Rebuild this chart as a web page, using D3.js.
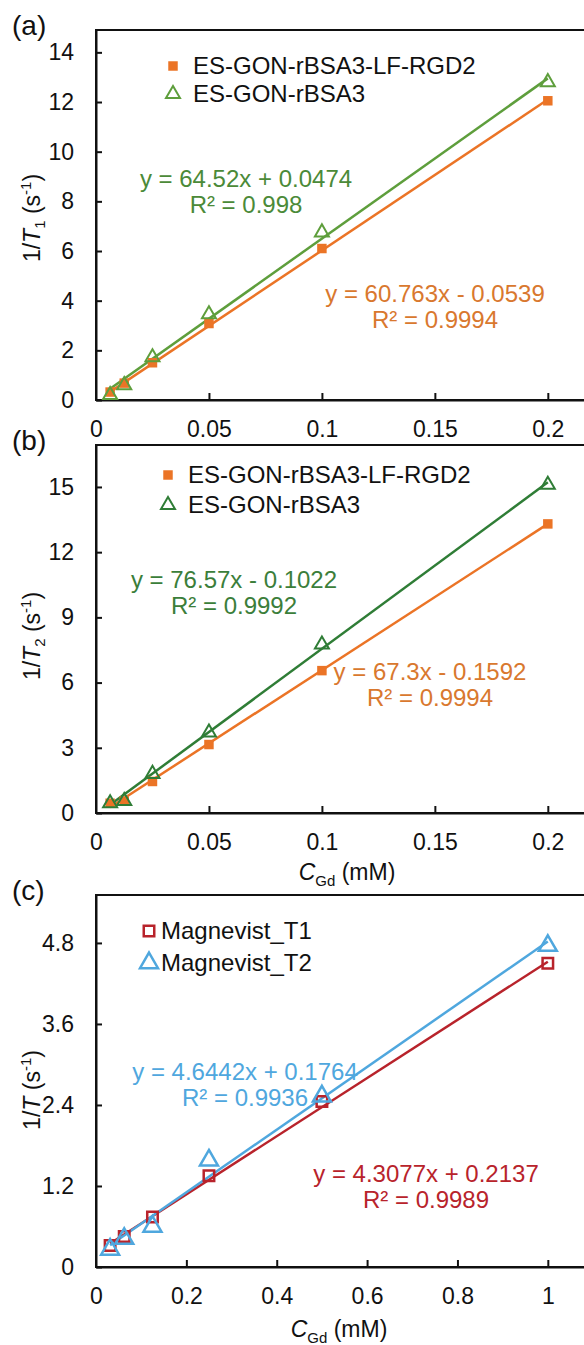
<!DOCTYPE html>
<html>
<head>
<meta charset="utf-8">
<script src="https://cdn.jsdelivr.net/npm/d3@7"></script>
<style>
  body { margin: 0; background: #fff; }
  svg { display: block; font-family: "Liberation Sans", Arial, sans-serif; }
</style>
</head>
<body>
<div id="chart"></div>
<script>
// concentrations (mM)
var concAB = [0.00625, 0.0125, 0.025, 0.05, 0.1, 0.2]
var concC = [0.03125, 0.0625, 0.125, 0.25, 0.5, 1]

// (a) 1/T1
var t1Rgd = [0.32, 0.68, 1.5, 3.08, 6.1, 12.05]
var t1Bsa = [0.2, 0.6, 1.72, 3.45, 6.75, 12.8]
// (b) 1/T2
var t2Rgd = [0.45, 0.55, 1.45, 3.15, 6.55, 13.3]
var t2Bsa = [0.45, 0.55, 1.8, 3.7, 7.75, 15.1]
// (c) Magnevist
var magT1 = [0.32, 0.45, 0.74, 1.35, 2.45, 4.5]
var magT2 = [0.26, 0.42, 0.6, 1.58, 2.53, 4.76]

// linear fits [slope, intercept]
var fitT1Rgd = [60.763, -0.0539], fitT1Bsa = [64.52, 0.0474]
var fitT2Rgd = [67.3, -0.1592], fitT2Bsa = [76.57, -0.1022]
var fitMagT1 = [4.3077, 0.2137], fitMagT2 = [4.6442, 0.1764]

var seriesNames = ["ES-GON-rBSA3-LF-RGD2", "ES-GON-rBSA3"]
var magNames = ["Magnevist_T1", "Magnevist_T2"]

var xTicksAB = [0, 0.05, 0.1, 0.15, 0.2]
var xTicksC = [0, 0.2, 0.4, 0.6, 0.8, 1]
var yTicksA = [0, 2, 4, 6, 8, 10, 12, 14]
var yTicksB = [0, 3, 6, 9, 12, 15]
var yTicksC = [0, 1.2, 2.4, 3.6, 4.8]

var w = 584, h = 1345,
	orange = "#EB7426", orangeText = "#D9782E",
	greenA = "#5E9E3C", greenAText = "#4B8A38",
	greenB = "#2F7D36", greenBText = "#3B7E3A",
	red = "#B8232B", blue = "#4FA7DE"

var svg = d3.select("#chart").append("svg")
	.attr("width", w)
	.attr("height", h)

var tri = d3.symbol().type(d3.symbolTriangle)
var sq = d3.symbol().type(d3.symbolSquare)

var drawPanel = p => {
	var x = d3.scaleLinear().domain(p.xDomain).range([96, 593])
	var y = d3.scaleLinear().domain(p.yDomain).range([p.bottom, p.top])
	var g = svg.append("g")

	// frame (right side falls outside the picture)
	g.append("rect")
		.attr("x", x(p.xDomain[0])).attr("y", p.top)
		.attr("width", x(p.xDomain[1]) - x(p.xDomain[0]))
		.attr("height", p.bottom - p.top)
		.attr("fill", "none").attr("stroke", "#111").attr("stroke-width", 2)

	var xAxis = d3.axisBottom(x).tickValues(p.xTicks).tickFormat(d => String(d))
		.tickSizeInner(-7).tickSizeOuter(0).tickPadding(21)
	var yAxis = d3.axisLeft(y).tickValues(p.yTicks).tickFormat(d => String(d))
		.tickSizeInner(-6).tickSizeOuter(0).tickPadding(22)

	var gx = g.append("g").attr("transform", "translate(0," + p.bottom + ")").call(xAxis)
	var gy = g.append("g").attr("transform", "translate(96,0)").call(yAxis)
	;[gx, gy].forEach(a => {
		a.select(".domain").attr("stroke", "#111").attr("stroke-width", 2)
		a.selectAll(".tick line").attr("stroke", "#111").attr("stroke-width", 2)
		a.selectAll(".tick text").attr("fill", "#111").style("font-size", "23px")
			.style("font-family", "Liberation Sans, Arial, sans-serif")
	})
	gx.selectAll(".tick").filter(d => d === 0).select("line").remove()

	// trend lines then markers
	p.series.forEach(s => {
		var x0 = d3.min(s.xs), x1 = d3.max(s.xs)
		g.append("line")
			.attr("x1", x(x0)).attr("y1", y(s.fit[0] * x0 + s.fit[1]))
			.attr("x2", x(x1)).attr("y2", y(s.fit[0] * x1 + s.fit[1]))
			.attr("stroke", s.color).attr("stroke-width", 2.5)
	})
	p.series.forEach(s => {
		var pts = s.xs.map((c, i) => ({c: c, v: s.ys[i]}))
		g.selectAll(null).data(pts).enter().append("path")
			.attr("transform", d => "translate(" + x(d.c) + "," + y(d.v) + ")")
			.attr("d", s.marker)
			.attr("fill", s.fill).attr("stroke", s.color).attr("stroke-width", s.sw)
	})

	// legend
	p.series.forEach((s, i) => {
		var ly = p.legendY + i * p.legendGap
		g.append("path")
			.attr("transform", "translate(" + p.legendX + "," + (ly - 8) + ")")
			.attr("d", s.marker)
			.attr("fill", s.fill).attr("stroke", s.color).attr("stroke-width", s.sw)
		g.append("text")
			.attr("x", p.legendX + p.legendTextDx).attr("y", ly)
			.attr("fill", "#111").style("font-size", "24px")
			.text(s.name)
	})

	// equations
	p.series.forEach(s => {
		var e = s.eq
		var sign = s.fit[1] < 0 ? " - " : " + "
		var t = g.append("text").attr("text-anchor", "middle")
			.attr("fill", s.textColor).style("font-size", "24px")
		t.append("tspan").attr("x", e[0]).attr("y", e[1])
			.text("y = " + s.fit[0] + "x" + sign + Math.abs(s.fit[1]))
		t.append("tspan").attr("x", e[0]).attr("y", e[1] + 26)
			.text("R² = " + s.r2)
	})

	// panel letter
	svg.append("text").attr("x", 12).attr("y", p.top + 5)
		.style("font-size", "28px").attr("fill", "#111").text(p.label)

	// y title
	var yt = svg.append("text")
		.attr("transform", "translate(40," + p.yTitleY + ") rotate(-90)")
		.attr("text-anchor", "middle").attr("fill", "#111").style("font-size", "23px")
	yt.append("tspan").text("1/")
	yt.append("tspan").style("font-style", "italic").text("T")
	if (p.ySub) {
		yt.append("tspan").attr("dy", 5).style("font-size", "15px").text(p.ySub)
		yt.append("tspan").attr("dy", -5).text(" (s")
	} else {
		yt.append("tspan").text(" (s")
	}
	yt.append("tspan").attr("dy", -9).style("font-size", "15px").text("-1")
	yt.append("tspan").attr("dy", 9).text(")")

	// x title
	if (p.xTitleY) {
		var xt = svg.append("text")
			.attr("x", p.xTitleX).attr("y", p.xTitleY)
			.attr("text-anchor", "middle").attr("fill", "#111").style("font-size", "23px")
		xt.append("tspan").style("font-style", "italic").text("C")
		xt.append("tspan").attr("dy", 6).style("font-size", "15px").text("Gd")
		xt.append("tspan").attr("dy", -6).text(" (mM)")
	}
}

drawPanel({
	label: "(a)", top: 30, bottom: 400,
	xDomain: [0, 0.22], yDomain: [0, 14.9],
	xTicks: xTicksAB, yTicks: yTicksA,
	legendX: 173, legendY: 74, legendGap: 28, legendTextDx: 20,
	yTitleY: 218, ySub: "1",
	series: [
		{name: seriesNames[0], xs: concAB, ys: t1Rgd, fit: fitT1Rgd, r2: "0.9994",
			color: orange, textColor: orangeText, fill: orange, sw: 0,
			marker: sq.size(90)(), eq: [435, 302]},
		{name: seriesNames[1], xs: concAB, ys: t1Bsa, fit: fitT1Bsa, r2: "0.998",
			color: greenA, textColor: greenAText, fill: "none", sw: 2,
			marker: tri.size(85)(), eq: [246, 187]}
	]
})

drawPanel({
	label: "(b)", top: 445, bottom: 813,
	xDomain: [0, 0.22], yDomain: [0, 16.93],
	xTicks: xTicksAB, yTicks: yTicksB,
	legendX: 168, legendY: 483, legendGap: 30, legendTextDx: 20,
	yTitleY: 636, ySub: "2",
	xTitleX: 347, xTitleY: 880,
	series: [
		{name: seriesNames[0], xs: concAB, ys: t2Rgd, fit: fitT2Rgd, r2: "0.9994",
			color: orange, textColor: orangeText, fill: orange, sw: 0,
			marker: sq.size(90)(), eq: [430, 680]},
		{name: seriesNames[1], xs: concAB, ys: t2Bsa, fit: fitT2Bsa, r2: "0.9992",
			color: greenB, textColor: greenBText, fill: "none", sw: 2,
			marker: tri.size(85)(), eq: [234, 588]}
	]
})

drawPanel({
	label: "(c)", top: 895, bottom: 1267,
	xDomain: [0, 1.1], yDomain: [0, 5.51],
	xTicks: xTicksC, yTicks: yTicksC,
	legendX: 149, legendY: 939, legendGap: 32, legendTextDx: 12,
	yTitleY: 1090, ySub: null,
	xTitleX: 339, xTitleY: 1337,
	series: [
		{name: magNames[0], xs: concC, ys: magT1, fit: fitMagT1, r2: "0.9989",
			color: red, textColor: red, fill: "none", sw: 2.5,
			marker: sq.size(110)(), eq: [426, 1182]},
		{name: magNames[1], xs: concC, ys: magT2, fit: fitMagT2, r2: "0.9936",
			color: blue, textColor: blue, fill: "none", sw: 2.5,
			marker: tri.size(140)(), eq: [245, 1080]}
	]
})
</script>
</body>
</html>
